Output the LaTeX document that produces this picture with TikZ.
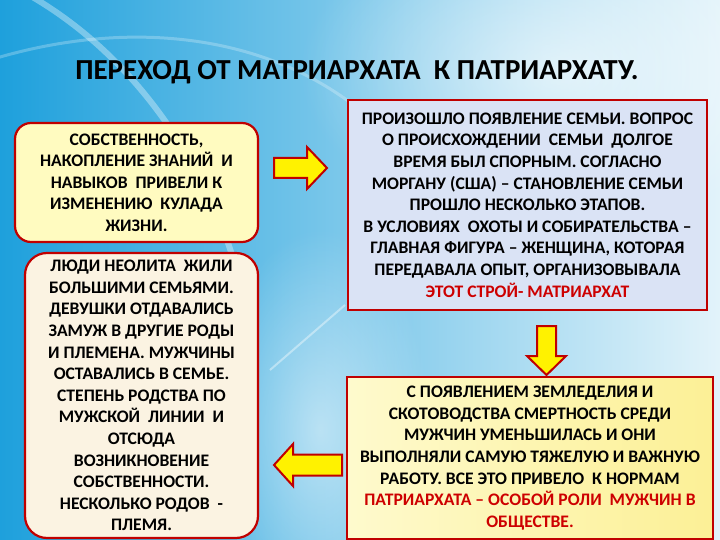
\documentclass[tikz,border=0pt]{standalone}
\usepackage{fontspec}
\setmainfont{Carlito}
\usetikzlibrary{fadings}
\tikzfading[name=glow, inner color=transparent!0, outer color=transparent!100]
\definecolor{boxred}{RGB}{192,0,0}
\definecolor{txtred}{RGB}{205,0,0}
\definecolor{skyl}{RGB}{30,160,220}
\definecolor{skym}{RGB}{135,208,240}
\definecolor{skyr}{RGB}{226,243,250}
\definecolor{lightyel}{RGB}{255,251,192}
\definecolor{cream}{RGB}{251,243,226}
\definecolor{lavender}{RGB}{218,227,245}
\definecolor{paleyel}{RGB}{254,250,205}
\definecolor{deepyel}{RGB}{252,240,150}

\begin{document}
\begin{tikzpicture}[x=1pt,y=-1pt,
    txt/.style={align=center,font=\fontsize{17.6}{21.6}\selectfont\bfseries,inner sep=0pt},
    rbox/.style={txt,draw=boxred,line width=2.2pt},
    sbox/.style={txt,draw=boxred,line width=1.8pt},
    blockarrow/.style={draw=boxred,fill=yellow,line width=2pt,line join=miter}]
    \useasboundingbox (0,0) rectangle (720,540);
    % background
    \shade[left color=skyl,middle color=skym,right color=skyr] (0,0) rectangle (720,540);
    \fill[white,opacity=.6,path fading=glow] (560,70) ellipse (260 and 160);
    \fill[white,opacity=.5,path fading=glow] (320,430) ellipse (110 and 200);
    \draw[white,opacity=.35,line width=6pt] (20,-10) .. controls (150,60) and (230,200) .. (250,330);
    \draw[white,opacity=.25,line width=3pt] (-10,60) .. controls (120,20) and (260,30) .. (360,110);
    \draw[white,opacity=.4,line width=2pt] (270,370) -- (345,305);
    % title
    \node[font=\fontsize{29}{34}\selectfont\bfseries] at (357,72) (title) {ПЕРЕХОД ОТ МАТРИАРХАТА\ \ К ПАТРИАРХАТУ.};
    % boxes
    \node[rbox,rounded corners=16pt,fill=lightyel,minimum width=243pt,minimum height=119pt] at (136.5,182.5) (prop) {СОБСТВЕННОСТЬ,\\НАКОПЛЕНИЕ ЗНАНИЙ\ \ И\\НАВЫКОВ\ \ ПРИВЕЛИ К\\ИЗМЕНЕНИЮ\ \ КУЛАДА\\ЖИЗНИ.};
    \node[rbox,rounded corners=22pt,fill=cream,minimum width=233pt,minimum height=285pt] at (141.5,395.5) (neol) {ЛЮДИ НЕОЛИТА\ \ ЖИЛИ\\БОЛЬШИМИ СЕМЬЯМИ.\\ДЕВУШКИ ОТДАВАЛИСЬ\\ЗАМУЖ В ДРУГИЕ РОДЫ\\И ПЛЕМЕНА. МУЖЧИНЫ\\ОСТАВАЛИСЬ В СЕМЬЕ.\\СТЕПЕНЬ РОДСТВА ПО\\МУЖСКОЙ\ \ ЛИНИИ\ \ И\\ОТСЮДА\\ВОЗНИКНОВЕНИЕ\\СОБСТВЕННОСТИ.\\НЕСКОЛЬКО РОДОВ\ \ -\\ПЛЕМЯ.};
    \node[sbox,fill=lavender,minimum width=359pt,minimum height=210pt] at (527.5,205) (fam) {ПРОИЗОШЛО ПОЯВЛЕНИЕ СЕМЬИ. ВОПРОС\\О ПРОИСХОЖДЕНИИ\ \ СЕМЬИ\ \ ДОЛГОЕ\\ВРЕМЯ БЫЛ СПОРНЫМ. СОГЛАСНО\\МОРГАНУ (США) – СТАНОВЛЕНИЕ СЕМЬИ\\ПРОШЛО НЕСКОЛЬКО ЭТАПОВ.\\В УСЛОВИЯХ\ \ ОХОТЫ И СОБИРАТЕЛЬСТВА –\\ГЛАВНАЯ ФИГУРА – ЖЕНЩИНА, КОТОРАЯ\\ПЕРЕДАВАЛА ОПЫТ, ОРГАНИЗОВЫВАЛА\\\textcolor{txtred}{ЭТОТ СТРОЙ- МАТРИАРХАТ}};
    \node[sbox,left color=paleyel,right color=deepyel,minimum width=366pt,minimum height=162pt] at (530,458) (agri) {С ПОЯВЛЕНИЕМ ЗЕМЛЕДЕЛИЯ И\\СКОТОВОДСТВА СМЕРТНОСТЬ СРЕДИ\\МУЖЧИН УМЕНЬШИЛАСЬ И ОНИ\\ВЫПОЛНЯЛИ САМУЮ ТЯЖЕЛУЮ И ВАЖНУЮ\\РАБОТУ. ВСЕ ЭТО ПРИВЕЛО\ \ К НОРМАМ\\\textcolor{txtred}{ПАТРИАРХАТА – ОСОБОЙ РОЛИ\ \ МУЖЧИН В}\\\textcolor{txtred}{ОБЩЕСТВЕ.}};
    % block arrows
    \draw[blockarrow] (274,158) -- (307,158) -- (307,147) -- (327,168) -- (307,189) -- (307,178) -- (274,178) -- cycle;
    \draw[blockarrow] (537,326) -- (556,326) -- (556,356) -- (566,356) -- (546.5,375) -- (527,356) -- (537,356) -- cycle;
    \draw[blockarrow] (342,454.5) -- (293,454.5) -- (293,444) -- (274,465) -- (293,486) -- (293,475.5) -- (342,475.5) -- cycle;
  \end{tikzpicture}
\end{document}
